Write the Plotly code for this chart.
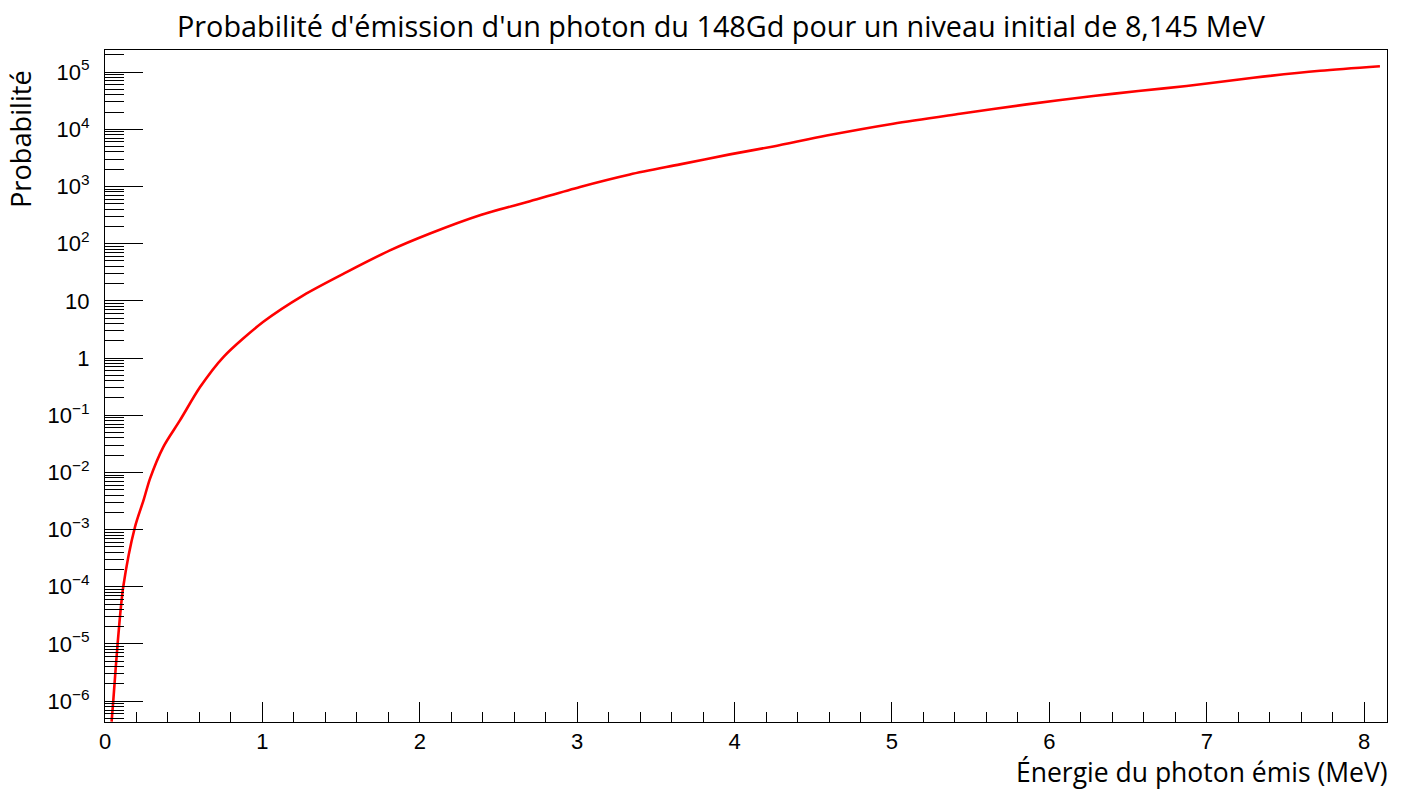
import plotly.graph_objects as go

# Photon emission probability for 148Gd, initial level 8.145 MeV
energy_mev = [0.042, 0.053, 0.080, 0.116, 0.190, 0.244, 0.286, 0.371, 0.476,
              0.604, 0.752, 1.006, 1.26, 1.535, 1.81, 2.065, 2.382, 2.70,
              3.018, 3.335, 3.653, 3.97, 4.246, 4.585, 5.008, 5.432, 5.856,
              6.279, 6.565, 6.872, 7.295, 7.72, 8.10]
probability = [4.4e-7, 1.05e-6, 1.0e-5, 1.0e-4, 1.1e-3, 3.2e-3, 7.8e-3, 2.8e-2,
               8.1e-2, 0.31, 1.04, 4.3, 12.5, 31.8, 76, 150, 313, 550,
               980, 1620, 2430, 3630, 5000, 7760, 12500, 18600, 27200,
               38000, 46500, 57000, 79400, 105000, 126000]

# Axis decorations
x_range = [0, 8.145]
y_log_range = [-6.364, 5.385]
y_major_vals = [1e-6, 1e-5, 1e-4, 1e-3, 1e-2, 1e-1, 1, 10, 1e2, 1e3, 1e4, 1e5]
y_major_text = ["10<sup>\u22126</sup>", "10<sup>\u22125</sup>", "10<sup>\u22124</sup>",
                "10<sup>\u22123</sup>", "10<sup>\u22122</sup>", "10<sup>\u22121</sup>",
                "1", "10", "10<sup>2</sup>", "10<sup>3</sup>", "10<sup>4</sup>",
                "10<sup>5</sup>"]
decades = list(range(-7, 6))
minor_digits = [2, 3, 4, 5, 6, 7, 8, 9]
y_minor_vals = [d * 10.0 ** p for p in decades for d in minor_digits]

title_text = "Probabilité d'émission d'un photon du 148Gd pour un niveau initial de 8,145 MeV"
x_title = "Énergie du photon émis (MeV)"
y_title = "Probabilité"

label_font = dict(family="Liberation Sans, Arial, sans-serif", size=22, color="black")
text_font = dict(family="Open Sans, sans-serif", size=28.8, color="black")
x_title_font = dict(family="Open Sans, sans-serif", size=26.5, color="black")
y_title_font = dict(family="Open Sans, sans-serif", size=27.2, color="black")

fig = go.Figure()
fig.add_trace(go.Scatter(
    x=energy_mev, y=probability, mode="lines",
    line=dict(color="#ff0000", width=2.6, shape="spline", smoothing=0.8),
    showlegend=False, hoverinfo="x+y",
))

fig.update_xaxes(
    range=x_range, showgrid=False, zeroline=False,
    showline=True, linecolor="black", linewidth=1, mirror=True,
    ticks="inside", ticklen=20, tickwidth=1, tickcolor="black",
    tickmode="linear", tick0=0, dtick=1,
    tickfont=label_font,
    minor=dict(ticks="inside", ticklen=10, tickwidth=1, tickcolor="black",
               dtick=0.2, tick0=0, showgrid=False),
)
fig.update_yaxes(
    type="log", range=y_log_range, showgrid=False, zeroline=False,
    showline=True, linecolor="black", linewidth=1, mirror=True,
    ticks="inside", ticklen=38, tickwidth=1, tickcolor="black",
    tickmode="array", tickvals=y_major_vals, ticktext=y_major_text,
    tickfont=label_font, ticklabelstandoff=10,
    minor=dict(ticks="inside", ticklen=19, tickwidth=1, tickcolor="black",
               tickmode="array", tickvals=y_minor_vals, showgrid=False),
)

fig.add_annotation(text=title_text, xref="paper", yref="paper",
                   x=(721.5 - 105) / 1282, y=1, yshift=25, xanchor="center",
                   yanchor="middle", showarrow=False, font=text_font)
fig.add_annotation(text=x_title, xref="paper", yref="paper",
                   x=1, y=0, xshift=3, yshift=-50, xanchor="right",
                   yanchor="middle", showarrow=False, font=x_title_font)
fig.add_annotation(text=y_title, xref="paper", yref="paper",
                   x=0, y=1, xshift=-85, yshift=-18, textangle=-90,
                   xanchor="center", yanchor="top", showarrow=False,
                   font=y_title_font)

fig.update_layout(
    width=1406, height=790,
    margin=dict(l=105, r=19, t=50, b=68),
    paper_bgcolor="white", plot_bgcolor="white",
)

fig.write_html("out.html")
